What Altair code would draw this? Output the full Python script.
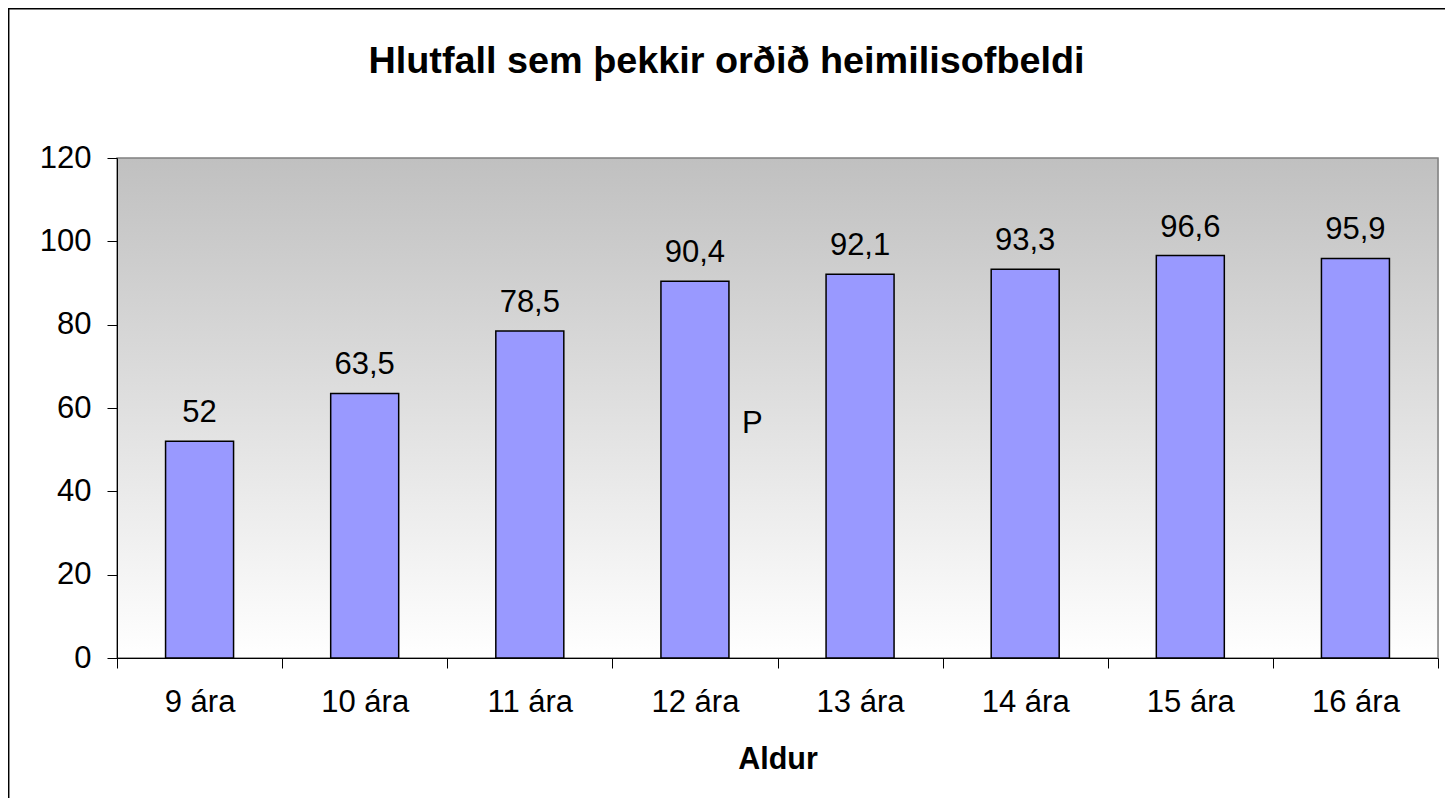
import altair as alt
import pandas as pd

TITLE = "Hlutfall sem þekkir orðið heimilisofbeldi"
X_TITLE = "Aldur"
categories = ["9 ára", "10 ára", "11 ára", "12 ára", "13 ára", "14 ára", "15 ára", "16 ára"]
values = [52, 63.5, 78.5, 90.4, 92.1, 93.3, 96.6, 95.9]
y_ticks = [0, 20, 40, 60, 80, 100, 120]
stray_cat = ["12 ára"]
stray_val = [54]
stray_txt = ["P"]

FONT = "Liberation Sans"
W, H = 1321, 500
FS = 31

df = pd.DataFrame({
    "cat": categories,
    "val": values,
    "lab": [f"{v:g}".replace(".", ",") for v in values],
})

xs = alt.Scale(domain=categories, paddingInner=0, paddingOuter=0)
ys = alt.Scale(domain=[0, 120], nice=False)

bg = alt.Chart(pd.DataFrame({"a": [0]})).mark_rect(
    fill=alt.LinearGradient(
        gradient="linear", x1=0, x2=0, y1=0, y2=1,
        stops=[alt.GradientStop(offset=0, color="#c0c0c0"),
               alt.GradientStop(offset=1, color="#ffffff")]),
    stroke="#808080", strokeWidth=1.5,
).encode(x=alt.value(0), x2=alt.value(W), y=alt.value(0), y2=alt.value(H))

bars = alt.Chart(df).mark_bar(size=68, color="#9999ff", stroke="black", strokeWidth=1.5).encode(
    x=alt.X("cat:N", scale=xs, sort=categories,
            axis=alt.Axis(title=X_TITLE, labelAngle=0, tickBand="extent", tickSize=10,
                          labelFontSize=FS, labelFont=FONT, labelColor="black",
                          labelBaseline="alphabetic", labelPadding=43,
                          titleFontSize=30.5, titleFont=FONT, titleFontWeight="bold",
                          titleColor="black", titleBaseline="alphabetic", titleY=110,
                          domainColor="black", tickColor="black", grid=False, zindex=1)),
    y=alt.Y("val:Q", scale=ys,
            axis=alt.Axis(title=None, values=y_ticks, tickSize=10, labelFontSize=FS,
                          labelFont=FONT, labelColor="black", labelPadding=16,
                          domainColor="black", tickColor="black", grid=False, zindex=1)),
)

labels = alt.Chart(df).mark_text(dy=-19, baseline="alphabetic", fontSize=FS, font=FONT,
                                 color="black").encode(
    x=alt.X("cat:N", scale=xs, sort=categories),
    y=alt.Y("val:Q", scale=ys),
    text="lab:N",
)

stray = alt.Chart(pd.DataFrame({"cat": stray_cat, "val": stray_val, "t": stray_txt})).mark_text(
    dx=47, align="left", baseline="alphabetic", fontSize=FS, font=FONT, color="black"
).encode(x=alt.X("cat:N", scale=xs, sort=categories), y=alt.Y("val:Q", scale=ys), text="t:N")

title = alt.Chart(pd.DataFrame({"t": [TITLE]})).mark_text(
    fontSize=37.8, fontWeight="bold", font=FONT, color="black", baseline="alphabetic", align="center"
).encode(x=alt.value(609.5), y=alt.value(-85), text="t:N")

border_l = alt.Chart(pd.DataFrame({"a": [0]})).mark_rule(color="black", strokeWidth=1.5).encode(
    x=alt.value(-108.3), y=alt.value(-149.5), y2=alt.value(H + 140))
border_t = alt.Chart(pd.DataFrame({"a": [0]})).mark_rule(color="black", strokeWidth=1.5).encode(
    x=alt.value(-109), x2=alt.value(W + 7), y=alt.value(-149.3))

chart = alt.layer(bg, bars, labels, stray, title, border_l, border_t).properties(
    width=W, height=H,
    autosize=alt.AutoSizeParams(type="none"),
    padding={"left": 109, "top": 150, "right": 7, "bottom": 140},
).configure_view(stroke=None).configure(background="white")

chart.save("out.html", embed_options={"renderer": "svg", "actions": False})
